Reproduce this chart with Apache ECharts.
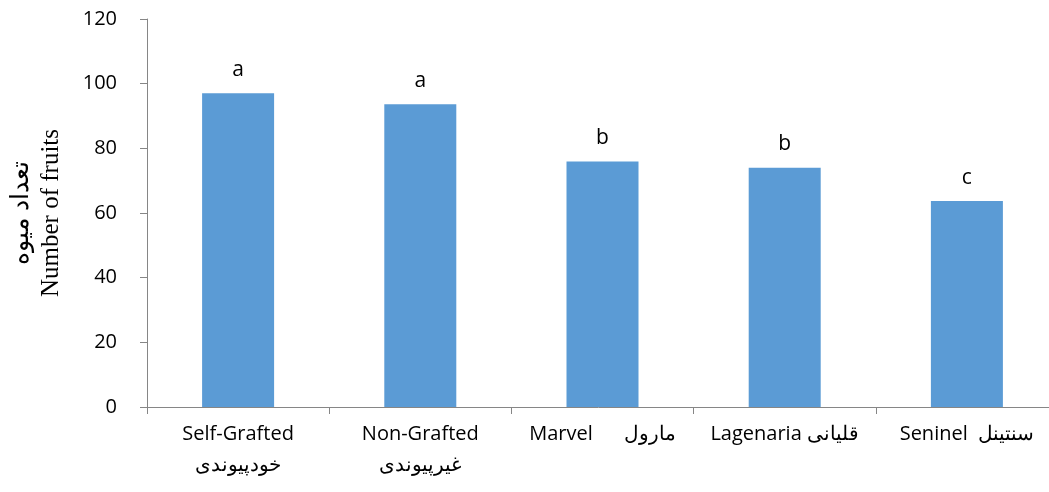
<!DOCTYPE html>
<html><head><meta charset="utf-8">
<script src="https://cdn.jsdelivr.net/npm/echarts@6/dist/echarts.min.js"></script>
<style>html,body{margin:0;padding:0;background:#fff}#c{width:1049px;height:492px}</style>
</head><body><div id="c"></div>
<script>
const categories = ['Self-Grafted\nخودپیوندی', 'Non-Grafted\nغیرپیوندی', 'Marvel      مارول', 'Lagenaria قلیانی', 'Seninel  سنتینل'];
const values = [97, 93.6, 75.9, 74, 63.7];
const letters = ['a', 'a', 'b', 'b', 'c'];
const yTicks = [0, 20, 40, 60, 80, 100, 120];

const chart = echarts.init(document.getElementById('c'));
chart.setOption({
  animation: false,
  grid: { left: 147, top: 19, width: 911, height: 388, containLabel: false, outerBoundsMode: 'none' },
  xAxis: {
    type: 'category', data: categories,
    axisLine: { lineStyle: { color: '#868686', width: 1 } },
    axisTick: { show: true, length: 7, lineStyle: { color: '#868686' } },
    axisLabel: { color: '#000', fontFamily: 'Open Sans, Liberation Sans, sans-serif', fontSize: 20, margin: 12, lineHeight: 31, interval: 0 }
  },
  yAxis: {
    type: 'value', min: 0, max: 120, interval: 20,
    name: 'تعداد میوه\nNumber of fruits', nameLocation: 'middle', nameGap: 81, nameRotate: 90,
    nameTextStyle: { color: '#000', fontFamily: 'Liberation Serif, serif', fontSize: 25, lineHeight: 30 },
    axisLine: { show: true, lineStyle: { color: '#868686' } },
    axisTick: { show: true, length: 7, lineStyle: { color: '#868686' } },
    splitLine: { show: false },
    axisLabel: { color: '#000', fontFamily: 'Open Sans, Liberation Sans, sans-serif', fontSize: 20, margin: 30,
      formatter: v => yTicks.includes(v) ? String(v) : '' }
  },
  series: [{
    type: 'bar', data: values, barWidth: 72, itemStyle: { color: '#5B9BD5' },
    label: { show: true, position: 'top', distance: 13, color: '#000', fontFamily: 'Open Sans, Liberation Sans, sans-serif', fontSize: 21,
      formatter: p => letters[p.dataIndex] }
  }]
});
</script></body></html>
